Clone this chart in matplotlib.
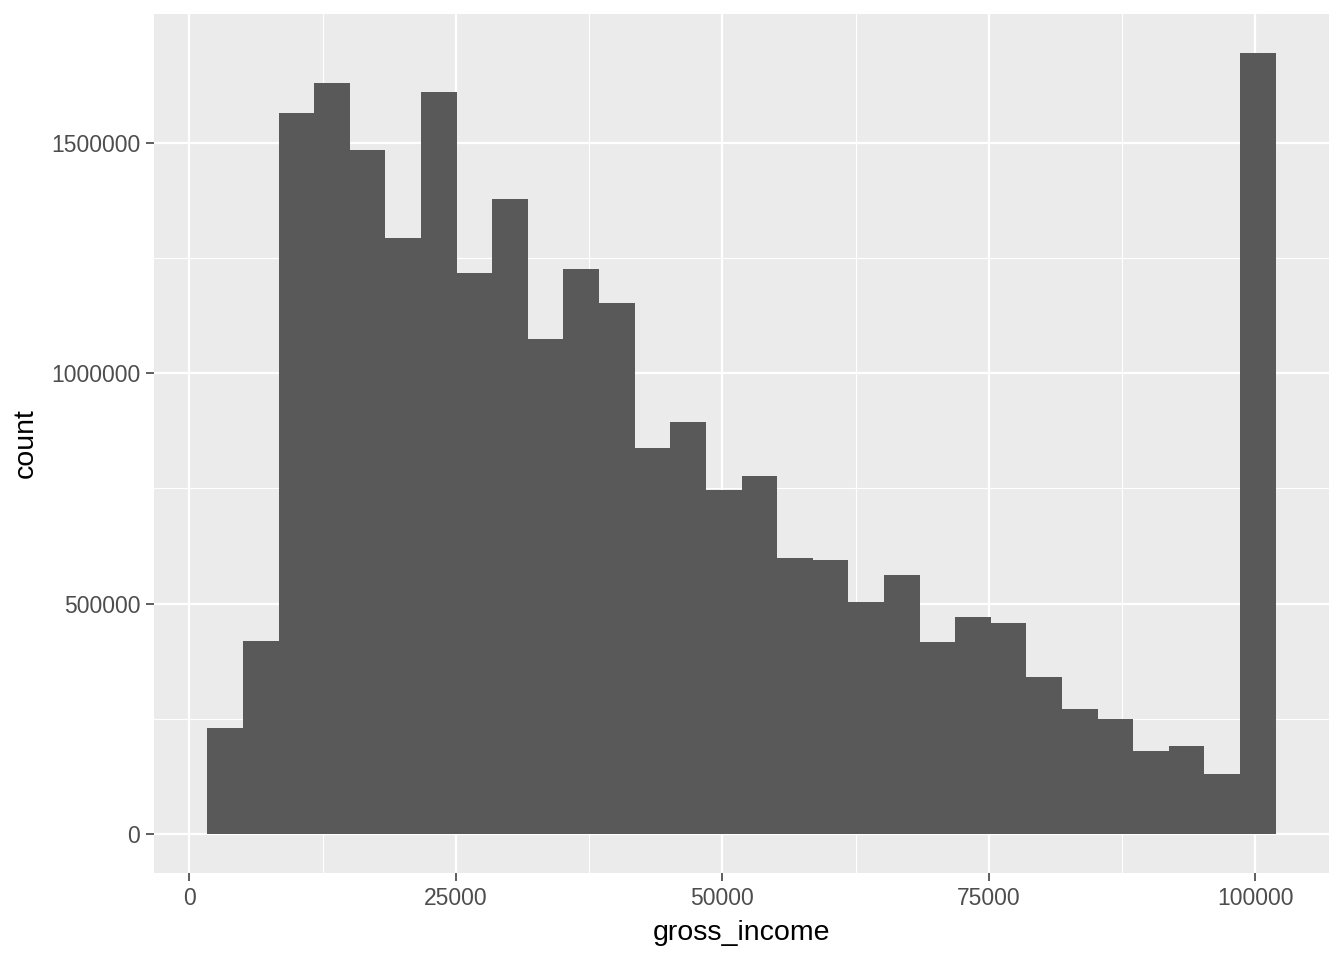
import numpy as np
import matplotlib.pyplot as plt

# histogram of gross_income, 30 bins (counts)
bin_start = 1700
bin_width = 3340
counts = [230000, 419000, 1565000, 1630000, 1485000, 1294000, 1611000, 1218000,
          1378000, 1075000, 1226000, 1153000, 838000, 894000, 747000, 777000,
          599000, 595000, 504000, 562000, 417000, 471000, 458000, 341000,
          271000, 250000, 180000, 191000, 130000, 1695000]
x_ticks = [0, 25000, 50000, 75000, 100000]
y_ticks = [0, 500000, 1000000, 1500000]

plt.rcParams['font.family'] = ['Liberation Sans', 'DejaVu Sans']

fig = plt.figure(figsize=(13.44, 9.6), dpi=100)
ax = fig.add_axes([154 / 1344, (960 - 873) / 960, (1329 - 154) / 1344, (873 - 14) / 960])
ax.set_facecolor('#EBEBEB')

edges = bin_start + bin_width * np.arange(len(counts) + 1)
# no antialiasing: bars are axis aligned, this avoids seams between neighbours
ax.bar(edges[:-1], counts, width=bin_width, align='edge', color='#595959',
       linewidth=0, antialiased=False, zorder=3)

# ggplot-style expansion (5% each side)
xr = edges[-1] - edges[0]
ax.set_xlim(edges[0] - 0.05 * xr, edges[-1] + 0.05 * xr)
yr = max(counts)
ax.set_ylim(-0.05 * yr, 1.05 * yr)

ax.set_xticks(x_ticks)
ax.set_xticklabels([str(t) for t in x_ticks])
ax.set_yticks(y_ticks)
ax.set_yticklabels([str(t) for t in y_ticks])
ax.set_xticks([12500, 37500, 62500, 87500], minor=True)
ax.set_yticks([250000, 750000, 1250000], minor=True)

ax.grid(True, which='major', color='white', lw=1.6, zorder=1)
ax.grid(True, which='minor', color='white', lw=0.8, zorder=1)
ax.tick_params(which='major', length=5.5, width=1.1, color='#333333',
               labelsize=16.5, labelcolor='#4D4D4D', pad=4.5)
ax.tick_params(which='minor', length=0)
for s in ax.spines.values():
    s.set_visible(False)

ax.set_xlabel('gross_income', fontsize=20.5, labelpad=7)
ax.set_ylabel('count', fontsize=20.5, labelpad=9)

fig.savefig('out.png', dpi=100, facecolor='white')
